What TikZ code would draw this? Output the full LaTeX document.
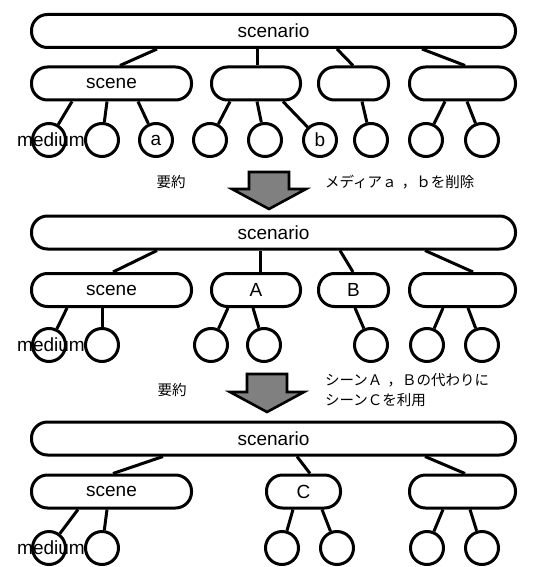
\documentclass[tikz,border=0pt]{standalone}
\usepackage{fontspec}
\setmainfont{Liberation Sans}
\newfontfamily\jpfont{Noto Sans CJK JP}

\begin{document}
\begin{tikzpicture}[x=1pt, y=-1pt,
  scn/.style={draw, line width=3pt, rounded corners=16pt, minimum width=484pt,
              minimum height=33pt, font=\fontsize{19}{22}\selectfont},
  scb/.style={draw, line width=3pt, rounded corners=16pt, minimum height=33pt,
              font=\fontsize{19}{22}\selectfont},
  med/.style={draw, circle, line width=3pt, minimum size=33pt, inner sep=0pt,
              font=\fontsize{19}{22}\selectfont},
  ln/.style={line width=3pt},
  lbl/.style={font=\fontsize{19}{22}\selectfont, inner sep=0pt},
  jp/.style={font=\jpfont\fontsize{14.5}{20}\selectfont, align=left, inner sep=0pt},
  bigarr/.style={draw, line width=2.6pt, fill=gray, line join=miter},
]
\useasboundingbox (0,0) rectangle (538,567);

% Tree 1: full scenario
\node[scn] at (273.5,31)  (sc1) {scenario};
\node[scb, minimum width=160pt] at (111.5,83.5) (s11) {scene};
\node[scb, minimum width=89pt]  at (256,83.5)   (s12) {};
\node[scb, minimum width=70pt]  at (353.5,83.5) (s13) {};
\node[scb, minimum width=106pt] at (462.5,83.5) (s14) {};
\node[med] at (49,140)  (c11) {};
\node[med] at (102,140) (c12) {};
\node[med] at (156,140) (c13) {a};
\node[med] at (210,140) (c14) {};
\node[med] at (265,140) (c15) {};
\node[med] at (320,140) (c16) {b};
\node[med] at (371,140) (c17) {};
\node[med] at (426,140) (c18) {};
\node[med] at (482,140) (c19) {};
\node[lbl] at (51,140) (m1) {medium};
\draw[ln] ([xshift=-116.5pt]sc1.south) -- ([xshift=8.5pt]s11.north);
\draw[ln] ([xshift=-16.5pt]sc1.south) -- ([xshift=1pt]s12.north);
\draw[ln] ([xshift=63.5pt]sc1.south) -- ([xshift=-0.5pt]s13.north);
\draw[ln] ([xshift=148.5pt]sc1.south) -- ([xshift=2.5pt]s14.north);
\draw[ln] ([xshift=-39.5pt]s11.south) -- (c11);
\draw[ln] ([xshift=-4.5pt]s11.south) -- (c12);
\draw[ln] ([xshift=26.5pt]s11.south) -- (c13);
\draw[ln] ([xshift=-26pt]s12.south) -- (c14);
\draw[ln] ([xshift=1pt]s12.south) -- (c15);
\draw[ln] ([xshift=27pt]s12.south) -- (c16);
\draw[ln] ([xshift=8.5pt]s13.south) -- (c17);
\draw[ln] ([xshift=-17.5pt]s14.south) -- (c18);
\draw[ln] ([xshift=4.5pt]s14.south) -- (c19);

% Step 1: drop media a, b
\draw[bigarr, shift={(269,172)}] (-20,0) -- (20,0) -- (20,17) -- (37,17)
  -- (0,37) -- (-37,17) -- (-20,17) -- cycle;
\node[jp] at (171,182) (sum1) {要約};
\node[jp, anchor=west] at (325,182) (note1) {メディアａ\hspace{0.35em}，ｂを削除};

% Tree 2
\node[scn] at (273.5,232.5) (sc2) {scenario};
\node[scb, minimum width=160pt] at (111.5,290) (s21) {scene};
\node[scb, minimum width=89pt]  at (256,290)   (sA)  {A};
\node[scb, minimum width=70pt]  at (353.5,290) (sB)  {B};
\node[scb, minimum width=106pt] at (462.5,290) (s24) {};
\node[med] at (49,345)  (c21) {};
\node[med] at (102,345) (c22) {};
\node[med] at (211,345) (cA1) {};
\node[med] at (264,345) (cA2) {};
\node[med] at (371,345) (cB)  {};
\node[med] at (427,345) (c26) {};
\node[med] at (482,345) (c27) {};
\node[lbl] at (51,345) (m2) {medium};
\draw[ln] ([xshift=-116.5pt]sc2.south) -- ([xshift=1.5pt]s21.north);
\draw[ln] ([xshift=-13.5pt]sc2.south) -- ([xshift=4pt]sA.north);
\draw[ln] ([xshift=66.5pt]sc2.south) -- ([xshift=-0.5pt]sB.north);
\draw[ln] ([xshift=151.5pt]sc2.south) -- ([xshift=10.5pt]s24.north);
\draw[ln] ([xshift=-44.5pt]s21.south) -- (c21);
\draw[ln] ([xshift=-9.5pt]s21.south) -- (c22);
\draw[ln] ([xshift=-28pt]sA.south) -- (cA1);
\draw[ln] ([xshift=-3pt]sA.south) -- (cA2);
\draw[ln] ([xshift=1.5pt]sB.south) -- (cB);
\draw[ln] ([xshift=-19.5pt]s24.south) -- (c26);
\draw[ln] ([xshift=5.5pt]s24.south) -- (c27);

% Step 2: merge scenes A, B into C
\draw[bigarr, shift={(267,374)}] (-20,0) -- (20,0) -- (20,18) -- (37,18)
  -- (0,38) -- (-37,18) -- (-20,18) -- cycle;
\node[jp] at (172,390) (sum2) {要約};
\node[jp, anchor=west] at (325,390) (note2)
  {シーンＡ\hspace{0.35em}，Ｂの代わりに\\シーンＣを利用};

% Tree 3
\node[scn] at (273.5,438.5) (sc3) {scenario};
\node[scb, minimum width=160pt] at (111.5,491.5) (s31) {scene};
\node[scb, minimum width=74pt]  at (303.5,491.5) (sC)  {C};
\node[scb, minimum width=106pt] at (462.5,491.5) (s34) {};
\node[med] at (49,548)  (c31) {};
\node[med] at (102,548) (c32) {};
\node[med] at (282,548) (cC1) {};
\node[med] at (337,548) (cC2) {};
\node[med] at (427,548) (c35) {};
\node[med] at (482,548) (c36) {};
\node[lbl] at (51,548) (m3) {medium};
\draw[ln] ([xshift=-110.5pt]sc3.south) -- ([xshift=1.5pt]s31.north);
\draw[ln] ([xshift=23.5pt]sc3.south) -- ([xshift=6.5pt]sC.north);
\draw[ln] ([xshift=151.5pt]sc3.south) -- ([xshift=2.5pt]s34.north);
\draw[ln] ([xshift=-33.5pt]s31.south) -- (c31);
\draw[ln] ([xshift=-4.5pt]s31.south) -- (c32);
\draw[ln] ([xshift=-10.5pt]sC.south) -- (cC1);
\draw[ln] ([xshift=18.5pt]sC.south) -- (cC2);
\draw[ln] ([xshift=-19.5pt]s34.south) -- (c35);
\draw[ln] ([xshift=7.5pt]s34.south) -- (c36);
\end{tikzpicture}
\end{document}
